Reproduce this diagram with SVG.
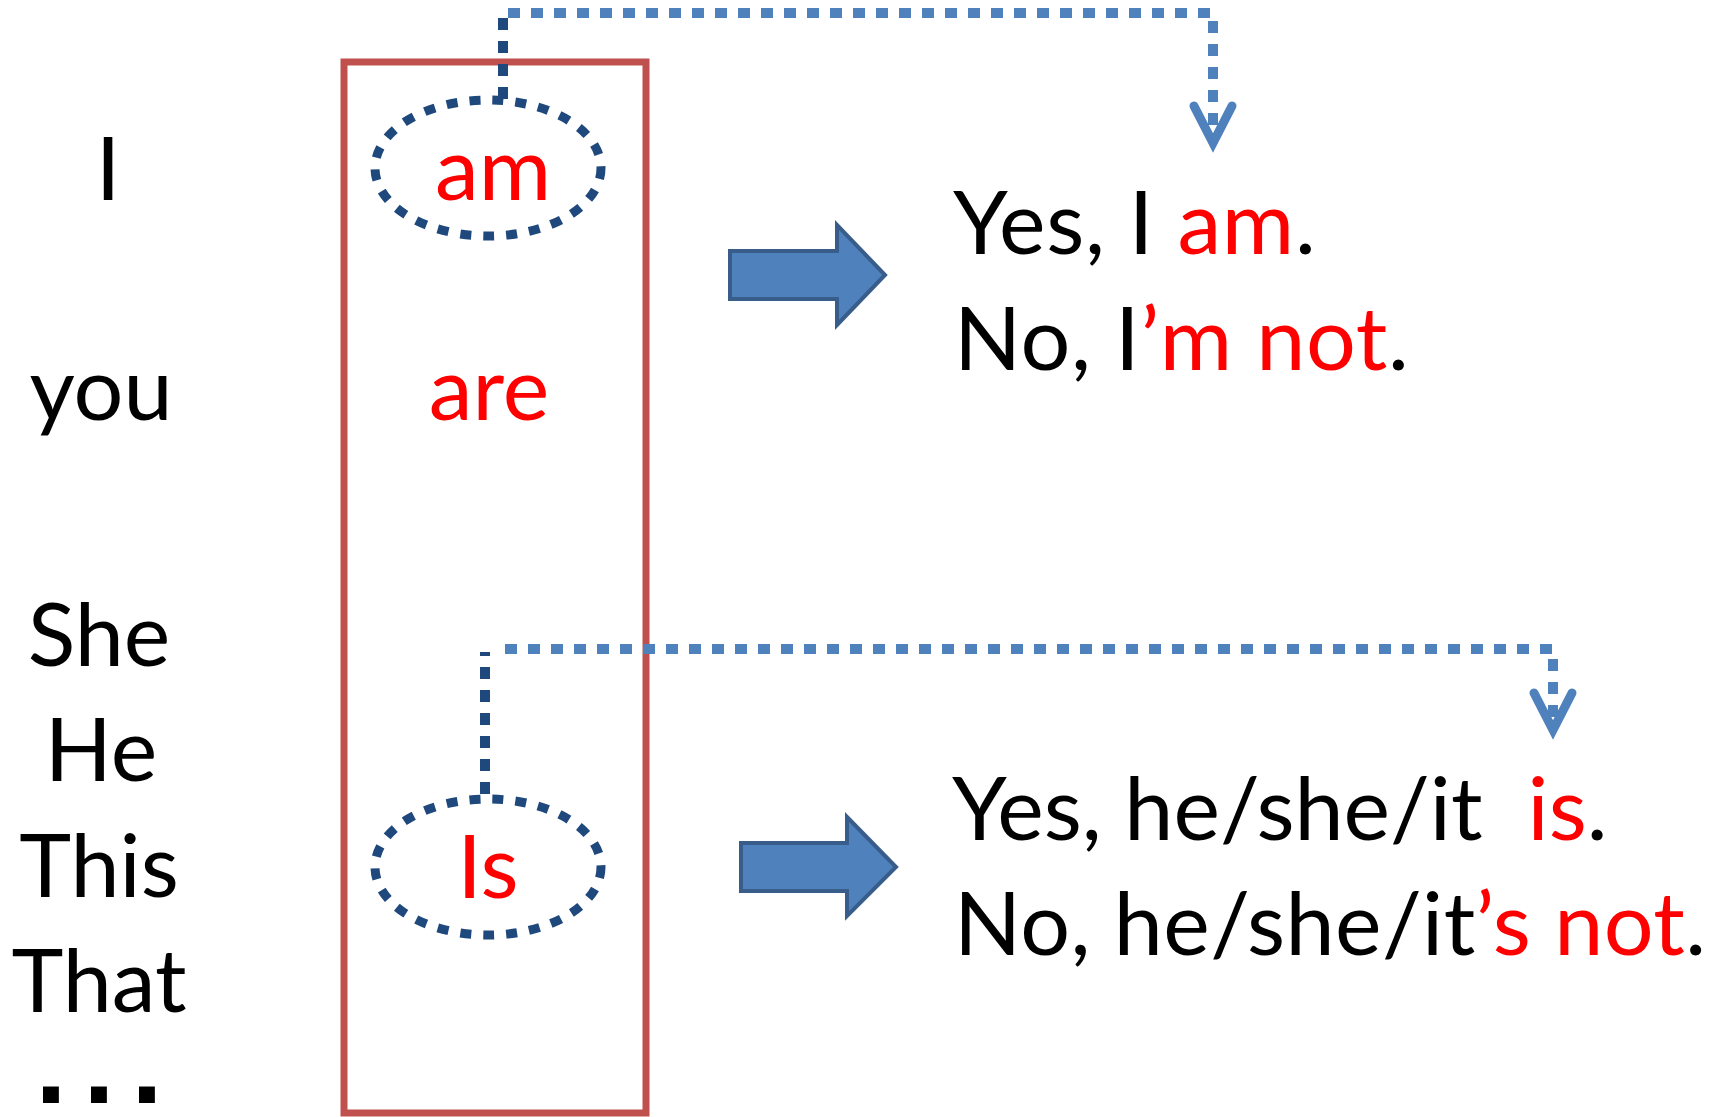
<svg xmlns="http://www.w3.org/2000/svg" width="1725" height="1117" viewBox="0 0 1725 1117">
<style>
  .t { font-family: Lato, "Open Sans", sans-serif; font-size: 88px; fill: #000; }
  .a { letter-spacing: 0.7px; }
  .c { text-anchor: middle; }
  .r { fill: #FF0000; }
  .dots { font-family: "Liberation Sans", Arial, sans-serif; font-size: 70px; font-weight: bold; fill: #000; stroke: #000; stroke-width: 6; stroke-linejoin: miter; text-anchor: middle; }
  .oval { fill: none; stroke: #1F497D; stroke-width: 9; stroke-dasharray: 11 12; }
  .dk { fill: none; stroke: #1F497D; stroke-width: 10; stroke-dasharray: 12 11; }
  .lt { fill: none; stroke: #4F81BD; stroke-width: 10; stroke-dasharray: 12 11; }
  .blk { fill: #4F81BD; stroke: #385D8A; stroke-width: 4; }
</style>
<defs>
  <marker id="open" markerUnits="userSpaceOnUse" viewBox="-50 -30 70 60" refX="0" refY="0" markerWidth="70" markerHeight="60" orient="auto" overflow="visible">
    <path d="M -37 -19 L 0 0 L -37 19" fill="none" stroke="#4F81BD" stroke-width="9" stroke-linecap="round" stroke-linejoin="miter" stroke-miterlimit="10"/>
  </marker>
</defs>
<rect width="1725" height="1117" fill="#fff"/>

<g id="subjects">
  <text class="t c" x="108" y="200">I</text>
  <text class="t c" x="101" y="420">you</text>
  <text class="t c" x="99" y="666">She</text>
  <text class="t c" x="101" y="781">He</text>
  <text class="t c" x="99" y="897">This</text>
  <text class="t c" x="99" y="1012">That</text>
  <text class="dots" x="51 99 147" y="1100">...</text>
</g>

<g id="verb-box">
  <rect x="344" y="62" width="302" height="1051" fill="none" stroke="#C0504D" stroke-width="7"/>
</g>

<g id="node-am">
  <ellipse class="oval" cx="488" cy="168" rx="113" ry="68"/>
  <text class="t c r" x="493" y="200">am</text>
</g>
<g id="node-are">
  <text class="t c r" x="489" y="420">are</text>
</g>
<g id="node-is">
  <ellipse class="oval" cx="488" cy="867" rx="113" ry="68"/>
  <text class="t c r" x="488" y="898">Is</text>
</g>

<g id="arrow-1">
  <path class="blk" d="M730,251 H837 V225 L885,275 L837,325 V299 H730 Z"/>
</g>
<g id="arrow-2">
  <path class="blk" d="M741,843 H847 V817 L896,867 L847,916 V891 H741 Z"/>
</g>

<g id="answer-1">
  <text class="t a" x="953" y="254">Yes, I <tspan class="r">am</tspan>.</text>
  <text class="t a" x="954" y="370">No, I<tspan class="r">’m not</tspan>.</text>
</g>
<g id="answer-2">
  <text class="t" x="952" y="840" xml:space="preserve">Yes, he/she/it  <tspan class="r">is</tspan>.</text>
  <text class="t" x="954" y="955" style="letter-spacing:0.4px">No, he/she/it<tspan class="r">’s not</tspan>.</text>
</g>

<g id="connectors">
  <path class="dk" d="M503,99 V15"/>
  <path class="lt" d="M508,13 H1213 V143" marker-end="url(#open)"/>
  <path class="dk" d="M485,794 V652"/>
  <path class="lt" d="M505,649 H1553 V730" marker-end="url(#open)"/>
</g>
</svg>
